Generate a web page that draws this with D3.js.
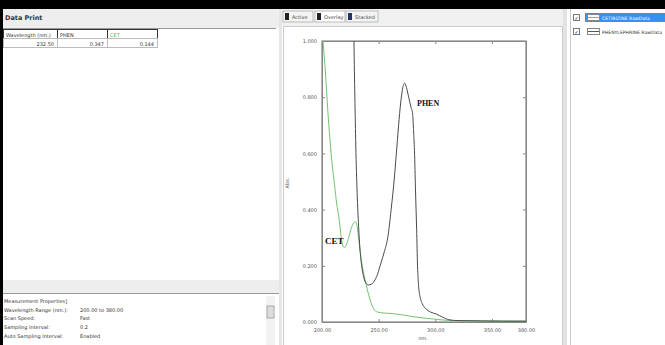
<!DOCTYPE html>
<html><head><meta charset="utf-8">
<script src="https://cdn.jsdelivr.net/npm/d3@7"></script>
<style>body{margin:0;background:#fff}svg{display:block}</style>
</head><body>
<svg id="c" width="665" height="345" font-family="DejaVu Sans, sans-serif"></svg>
<script>
// ---- data ----
const seriesNames = ["PHEN", "CET"];
const legendItems = ["CETIRIZINE RawData", "PHENYLEPHRINE RawData"];
const xTicks = [200, 250, 300, 350, 380];
const yTicks = [0, 0.2, 0.4, 0.6, 0.8, 1.0];
const tableHeader = ["Wavelength (nm.)", "PHEN", "CET"];
const tableRow = ["232.50", "0.347", "0.144"];
const tabs = ["Active", "Overlay", "Stacked"];
const props = [["Measurement Properties]", ""], ["Wavelength Range (nm.):", "200.00 to 380.00"], ["Scan Speed:", "Fast"], ["Sampling Interval:", "0.2"], ["Auto Sampling Interval:", "Enabled"]];

const phenWl = [227.5,228.2,229.0,229.8,231.0,232.3,233.5,235.0,236.5,238.5,241,243.5,246,249,252,255,258,261,264,266,268,270,272,273,274.5,276.5,278.5,280,280.8,281.6,282.5,283.5,284.3,285.2,286.5,288.5,291,296,301,306,312,320,340,360,380];
const phenAbs = [1.25,1.0,0.80,0.63,0.46,0.34,0.26,0.20,0.165,0.14,0.132,0.134,0.145,0.17,0.21,0.25,0.30,0.40,0.52,0.62,0.72,0.80,0.845,0.85,0.835,0.80,0.765,0.74,0.68,0.61,0.47,0.33,0.20,0.13,0.09,0.065,0.05,0.035,0.028,0.018,0.008,0.005,0.004,0.003,0.003];
const cetWl = [200.3,201,203,205,207,209,211,213,215,217,218.5,220,221.5,223.5,225.5,227.5,229.5,231,232.5,234,236,238,240,242,244,246,248,252,258,264,270,276,282,290,300,310,330,380];
const cetAbs = [1.05,1.0,0.89,0.76,0.65,0.56,0.49,0.42,0.37,0.30,0.27,0.265,0.275,0.30,0.33,0.35,0.356,0.34,0.29,0.24,0.19,0.15,0.115,0.085,0.06,0.045,0.037,0.033,0.031,0.029,0.026,0.022,0.018,0.014,0.010,0.006,0.004,0.003];

const svg = d3.select("#c");
const F = "DejaVu Sans, sans-serif";

// ---- frame / UI ----
svg.append("rect").attr("x",0).attr("y",0).attr("width",665).attr("height",9).attr("fill","#000");
svg.append("rect").attr("x",0).attr("y",0).attr("width",3).attr("height",345).attr("fill","#000");
// left panel
svg.append("rect").attr("x",3).attr("y",9).attr("width",276).attr("height",19).attr("fill","#eeeeee");
svg.append("text").attr("x",5).attr("y",20).attr("font-size",6.5).attr("font-weight","bold").attr("fill","#333").text("Data Print");
svg.append("line").attr("x1",3).attr("x2",276).attr("y1",28.5).attr("y2",28.5).attr("stroke","#999");
const colX = [3,57,107,157];
tableHeader.forEach((t,i)=>{
  svg.append("rect").attr("x",colX[i]+0.5).attr("y",29.5).attr("width",colX[i+1]-colX[i]).attr("height",9).attr("fill","#fff").attr("stroke","#333");
  svg.append("text").attr("x",colX[i]+3).attr("y",36.5).attr("font-size",5).attr("fill",i==2?"#5cb85c":"#333").text(t);
  svg.append("rect").attr("x",colX[i]+0.5).attr("y",38.5).attr("width",colX[i+1]-colX[i]).attr("height",9).attr("fill","#fff").attr("stroke","#bbb");
  svg.append("text").attr("x",colX[i+1]-3).attr("y",45.5).attr("font-size",5).attr("text-anchor","end").attr("fill","#333").text(tableRow[i]);
});
svg.append("rect").attr("x",3).attr("y",280).attr("width",276).attr("height",13).attr("fill","#eeeeee");
svg.append("line").attr("x1",3).attr("x2",279).attr("y1",293.5).attr("y2",293.5).attr("stroke","#999");
props.forEach((p,i)=>{
  const y = 303 + i*8.7;
  svg.append("text").attr("x",4).attr("y",y).attr("font-size",5).attr("fill","#333").text(p[0]);
  svg.append("text").attr("x",80).attr("y",y).attr("font-size",5).attr("fill","#333").text(p[1]);
});
svg.append("rect").attr("x",266).attr("y",296).attr("width",9).attr("height",49).attr("fill","#f2f2f2");
svg.append("rect").attr("x",267).attr("y",306).attr("width",7).attr("height",12).attr("fill","#ddd").attr("stroke","#aaa");
svg.append("rect").attr("x",279).attr("y",9).attr("width",3).attr("height",336).attr("fill","#e6e6e6");
// chart panel
svg.append("rect").attr("x",282).attr("y",9).attr("width",283).attr("height",17).attr("fill","#f0f0f0");
const tabX = [283,315,346], tabW=[30,30,32];
tabs.forEach((t,i)=>{
  svg.append("rect").attr("x",tabX[i]).attr("y",11).attr("width",tabW[i]).attr("height",11).attr("fill",i==1?"#fff":"#f4f4f4").attr("stroke","#bbb");
  svg.append("rect").attr("x",tabX[i]+2).attr("y",13).attr("width",4).attr("height",7).attr("fill",i==2?"#223366":"#222");
  svg.append("text").attr("x",tabX[i]+9).attr("y",19).attr("font-size",5).attr("fill","#444").text(t);
});
svg.append("rect").attr("x",283.5).attr("y",26.5).attr("width",279).attr("height",320).attr("fill","#fff").attr("stroke","#ccc");
svg.append("rect").attr("x",563).attr("y",9).attr("width",4).attr("height",336).attr("fill","#e3e3e3");
// legend panel
svg.append("line").attr("x1",570.5).attr("x2",570.5).attr("y1",9).attr("y2",345).attr("stroke","#ccc");
legendItems.forEach((t,i)=>{
  const y = 13 + i*14;
  if(i==0) svg.append("rect").attr("x",585).attr("y",y).attr("width",80).attr("height",9).attr("fill","#3d8ef0");
  svg.append("rect").attr("x",573.5).attr("y",y+1.5).attr("width",6).attr("height",6).attr("fill","#fff").attr("stroke","#777");
  svg.append("text").attr("x",574.5).attr("y",y+7).attr("font-size",5).attr("fill","#222").text("✓");
  svg.append("rect").attr("x",587.5).attr("y",y+1.5).attr("width",12).attr("height",6).attr("fill","#fff").attr("stroke","#888");
  svg.append("line").attr("x1",588).attr("x2",599).attr("y1",y+4.5).attr("y2",y+4.5).attr("stroke",i==0?"#6cbf6c":"#555");
  svg.append("text").attr("x",602).attr("y",y+7).attr("font-size",4.6).attr("textLength",i==1?60:null).attr("fill",i==0?"#fff":"#333").text(t);
});

// ---- chart ----
const x = d3.scaleLinear().domain([200,380]).range([322,526]);
const y = d3.scaleLinear().domain([0,1]).range([322,41]);
const defs = svg.append("defs");
defs.append("clipPath").attr("id","clip").append("rect").attr("x",322).attr("y",41).attr("width",204).attr("height",281);

const axStyle = g=>{g.selectAll("path").attr("stroke","#888"); g.selectAll("line").attr("stroke","#888"); g.selectAll("text").attr("fill","#555").attr("font-family",F);};
svg.append("g").attr("transform","translate(0,322)")
  .call(d3.axisBottom(x).tickValues(xTicks).tickSizeInner(-3).tickSizeOuter(0).tickPadding(6).tickFormat(d3.format(".2f")))
  .call(g=>g.attr("font-size",5)).call(axStyle);
svg.append("g").attr("transform","translate(0,41)")
  .call(d3.axisTop(x).tickValues(xTicks).tickSizeInner(-3).tickSizeOuter(0).tickFormat(""))
  .call(axStyle);
svg.append("g").attr("transform","translate(322,0)")
  .call(d3.axisLeft(y).tickValues(yTicks).tickSizeInner(-3).tickSizeOuter(0).tickPadding(5).tickFormat(d3.format(".3f")))
  .call(g=>g.attr("font-size",5)).call(axStyle);
svg.append("g").attr("transform","translate(526,0)")
  .call(d3.axisRight(y).tickValues(yTicks).tickSizeInner(-3).tickSizeOuter(0).tickFormat(""))
  .call(axStyle);
svg.append("rect").attr("x",322).attr("y",41).attr("width",204).attr("height",281).attr("fill","none").attr("stroke","#888").attr("stroke-width",1.2);

const line = d3.line().x(d=>x(d[0])).y(d=>y(d[1])).curve(d3.curveMonotoneX);
const plot = svg.append("g").attr("clip-path","url(#clip)");
plot.append("path").datum(cetWl.map((w,i)=>[w,cetAbs[i]])).attr("d",line).attr("fill","none").attr("stroke","#72c272").attr("stroke-width",1);
plot.append("path").datum(phenWl.map((w,i)=>[w,phenAbs[i]])).attr("d",line).attr("fill","none").attr("stroke","#4a4a4a").attr("stroke-width",1);

svg.append("text").attr("x",325).attr("y",244).attr("font-family","Liberation Serif, serif").attr("font-weight","bold").attr("font-size",9).attr("fill","#111").text(seriesNames[1]);
svg.append("text").attr("x",417).attr("y",106).attr("font-family","Liberation Serif, serif").attr("font-weight","bold").attr("font-size",8).attr("fill","#111").text(seriesNames[0]);

svg.append("text").attr("transform","translate(289,183) rotate(-90)").attr("text-anchor","middle").attr("font-size",5).attr("fill","#555").text("Abs.");
svg.append("text").attr("x",423).attr("y",340).attr("text-anchor","middle").attr("font-size",5).attr("fill","#555").text("nm.");
</script>
</body></html>
